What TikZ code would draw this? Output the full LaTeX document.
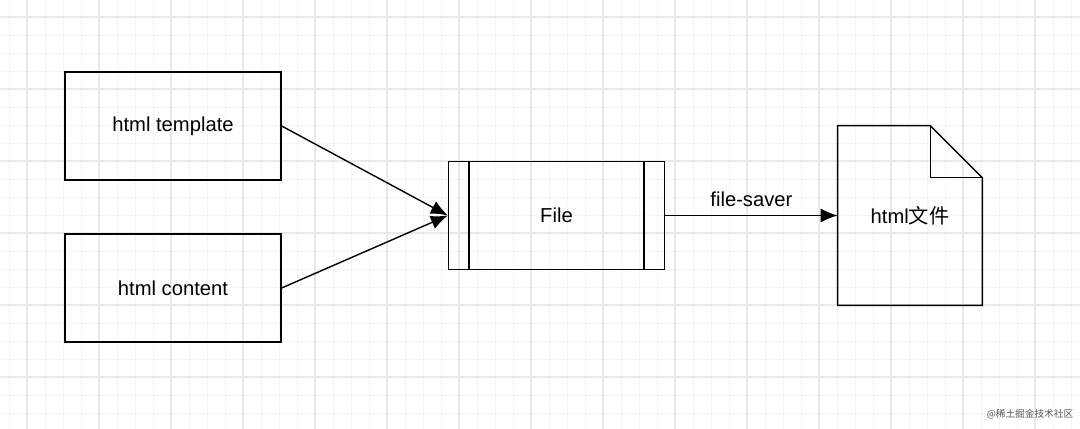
\documentclass[tikz,border=0pt]{standalone}
\usepackage{fontspec}
\setmainfont{Liberation Sans}
\newfontfamily\cjk{Noto Sans CJK SC}
\usetikzlibrary{arrows.meta,positioning}

\begin{document}
\begin{tikzpicture}[x=0.02cm,y=-0.02cm]
			\tikzset{Box/.style={draw, thick, minimum width=4.32cm, minimum height=2.16cm, inner sep=0pt, font=\fontsize{11.5}{14}\selectfont}}
			\tikzset{Plain/.style={minimum width=2.88cm, minimum height=3.58cm, inner sep=0pt, font=\fontsize{11.5}{14}\selectfont}}
			\tikzset{Link/.style={thick, -{Latex[length=3.4mm,width=2.8mm]}}}
			\tikzset{Minor/.style={gray!8, line width=0.5pt}}
			\tikzset{Major/.style={gray!17, line width=0.6pt}}

			\useasboundingbox (0,0) rectangle (1080,429);
			\fill[white] (0,0) rectangle (1080,429);
			% grid
			\foreach \x in {9,27,...,1080}
				\draw[Minor] (\x,0) -- (\x,429);
			\foreach \y in {17,35,...,429}
				\draw[Minor] (0,\y) -- (1080,\y);
			\foreach \x in {27,99,...,1080}
				\draw[Major] (\x,0) -- (\x,429);
			\foreach \y in {17,89,...,429}
				\draw[Major] (0,\y) -- (1080,\y);

			\node (tmpl) at (173,126) [Box] {html template};
			\node (cont) at (173,288) [Box] {html content};
			\node (file) at (556.5,215.5) [Box] {File};
			\draw[thick] ([xshift=0.42cm]file.north west) -- ([xshift=0.42cm]file.south west);
			\draw[thick] ([xshift=-0.42cm]file.north east) -- ([xshift=-0.42cm]file.south east);

			\node (doc) at (910,215.5) [Plain] {html{\cjk 文件}};
			\draw[thick] (doc.north west) -- ([xshift=-1.04cm]doc.north east) -- ([yshift=-1.04cm]doc.north east) -- (doc.south east) -- (doc.south west) -- cycle;
			\draw[thick] ([xshift=-1.04cm]doc.north east) -- ([xshift=-1.04cm,yshift=-1.04cm]doc.north east) -- ([yshift=-1.04cm]doc.north east);

			\draw[Link] (tmpl.east) -- (file.west);
			\draw[Link] (cont.east) -- (file.west);
			\draw[Link] (file.east) -- node[above=1pt, font=\fontsize{11.5}{14}\selectfont] {file-saver} (doc.west);

			\node (mark) at (1030,414) [gray!70!black, font=\cjk\fontsize{5.5}{7}\selectfont] {@稀土掘金技术社区};
		\end{tikzpicture}
\end{document}
